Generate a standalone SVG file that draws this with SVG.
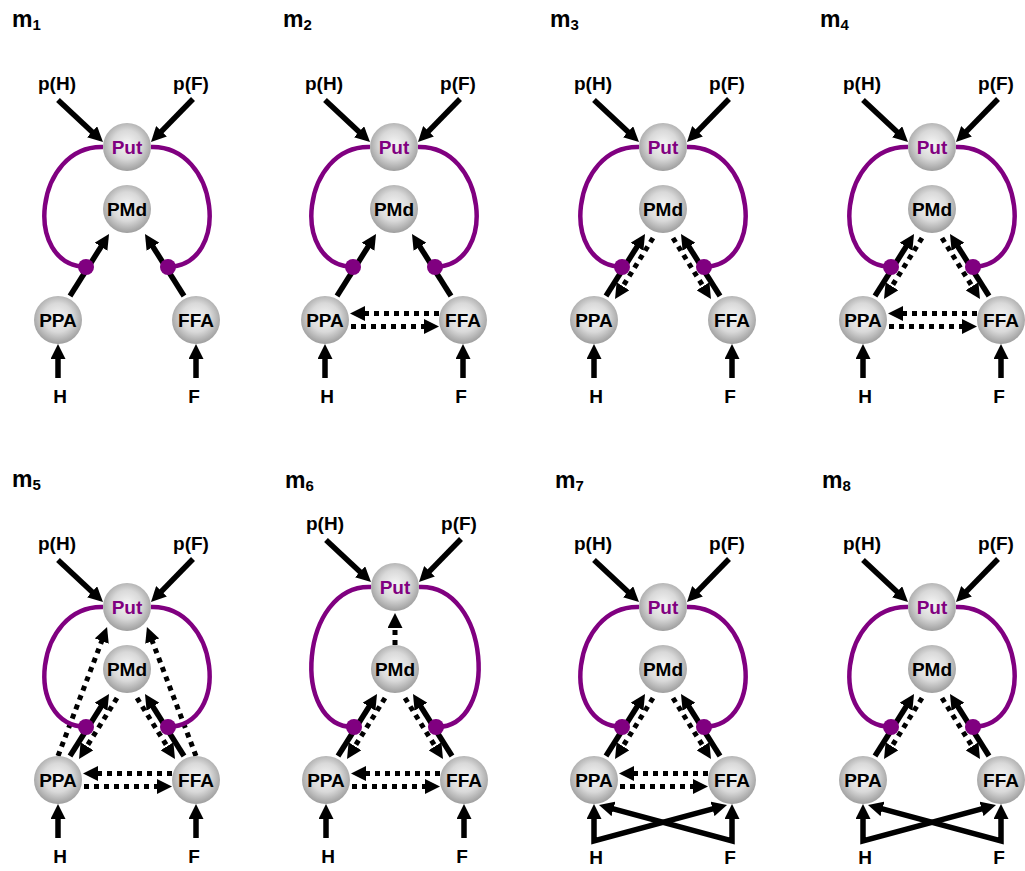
<svg xmlns="http://www.w3.org/2000/svg" width="1025" height="871" viewBox="0 0 1025 871">
<defs>
<radialGradient id="g" cx="50%" cy="45%" r="55%">
<stop offset="0" stop-color="#f6f6f6"/>
<stop offset="0.55" stop-color="#d9d9d9"/>
<stop offset="1" stop-color="#9e9e9e"/>
</radialGradient>
<marker id="ah" viewBox="0 0 15 15" refX="5" refY="7.5" markerWidth="15" markerHeight="15" markerUnits="userSpaceOnUse" orient="auto-start-reverse">
<path d="M0,0 L15,7.5 L0,15 z" fill="#000"/>
</marker>
</defs>
<style>
.s{stroke:#000;stroke-width:5.5;fill:none;marker-end:url(#ah)}
.d{stroke:#000;stroke-width:5;fill:none;stroke-dasharray:5 5;marker-end:url(#ah)}
.x{stroke:#000;stroke-width:5.5;fill:none;stroke-linejoin:miter;marker-start:url(#ah);marker-end:url(#ah)}
.p{stroke:#800080;stroke-width:4.5;fill:none}
.dot{fill:#800080}
.n{fill:url(#g)}
text{font-family:"Liberation Sans",Arial,sans-serif;font-weight:bold;font-size:19px;text-anchor:middle;fill:#000}
.put{fill:#800080}
.t{font-size:23px;text-anchor:start}
.sub{font-size:15px}
</style>
<rect width="1025" height="871" fill="#fff"/>

<!-- titles -->
<text class="t" x="12" y="27">m<tspan class="sub" dy="3">1</tspan></text>
<text class="t" x="283" y="27">m<tspan class="sub" dy="3">2</tspan></text>
<text class="t" x="550" y="27">m<tspan class="sub" dy="3">3</tspan></text>
<text class="t" x="820" y="27">m<tspan class="sub" dy="3">4</tspan></text>
<text class="t" x="12" y="487">m<tspan class="sub" dy="3">5</tspan></text>
<text class="t" x="285" y="488">m<tspan class="sub" dy="3">6</tspan></text>
<text class="t" x="555" y="488">m<tspan class="sub" dy="3">7</tspan></text>
<text class="t" x="822" y="488">m<tspan class="sub" dy="3">8</tspan></text>

<!-- m1 -->
<g id="m1">
<g id="m1-connectors">
<line class="s" x1="58" y1="100" x2="95.7" y2="135.2"/>
<line class="s" x1="193" y1="99" x2="158" y2="134.8"/>
<line class="s" x1="58" y1="378" x2="58" y2="354"/>
<line class="s" x1="196" y1="378" x2="196" y2="354"/>
<line class="s" x1="70" y1="296" x2="103.7" y2="242.5"/>
<line class="s" x1="184" y1="296" x2="150.3" y2="242.5"/>
<path class="p" d="M103,147 C35,145 22,265 86,267"/>
<path class="p" d="M151,147 C219,145 232,265 168,267"/>
<circle class="dot" cx="86" cy="267" r="8"/>
<circle class="dot" cx="168" cy="267" r="8"/>
</g>
<g id="m1-Put"><circle class="n" cx="127" cy="147" r="24"/><text class="put" x="127" y="153.5">Put</text></g>
<g id="m1-PMd"><circle class="n" cx="127" cy="209" r="24"/><text x="127" y="215.5">PMd</text></g>
<g id="m1-PPA"><circle class="n" cx="58" cy="320" r="24"/><text x="58" y="326.5">PPA</text></g>
<g id="m1-FFA"><circle class="n" cx="196" cy="320" r="24"/><text x="196" y="326.5">FFA</text></g>
<text x="57" y="90">p(H)</text><text x="191" y="90">p(F)</text>
<text x="60" y="403">H</text><text x="194" y="403">F</text>
</g>

<!-- m2 -->
<g id="m2" transform="translate(267,0)">
<g id="m2-connectors">
<line class="s" x1="58" y1="100" x2="95.7" y2="135.2"/>
<line class="s" x1="193" y1="99" x2="158" y2="134.8"/>
<line class="s" x1="58" y1="378" x2="58" y2="354"/>
<line class="s" x1="196" y1="378" x2="196" y2="354"/>
<line class="s" x1="70" y1="296" x2="103.7" y2="242.5"/>
<line class="s" x1="184" y1="296" x2="150.3" y2="242.5"/>
<line class="d" x1="172" y1="313.5" x2="93" y2="313.5"/>
<line class="d" x1="84" y1="326.5" x2="162" y2="326.5"/>
<path class="p" d="M103,147 C35,145 22,265 86,267"/>
<path class="p" d="M151,147 C219,145 232,265 168,267"/>
<circle class="dot" cx="86" cy="267" r="8"/>
<circle class="dot" cx="168" cy="267" r="8"/>
</g>
<g id="m2-Put"><circle class="n" cx="127" cy="147" r="24"/><text class="put" x="127" y="153.5">Put</text></g>
<g id="m2-PMd"><circle class="n" cx="127" cy="209" r="24"/><text x="127" y="215.5">PMd</text></g>
<g id="m2-PPA"><circle class="n" cx="58" cy="320" r="24"/><text x="58" y="326.5">PPA</text></g>
<g id="m2-FFA"><circle class="n" cx="196" cy="320" r="24"/><text x="196" y="326.5">FFA</text></g>
<text x="57" y="90">p(H)</text><text x="191" y="90">p(F)</text>
<text x="60" y="403">H</text><text x="194" y="403">F</text>
</g>

<!-- m3 -->
<g id="m3" transform="translate(536,0)">
<g id="m3-connectors">
<line class="s" x1="58" y1="100" x2="95.7" y2="135.2"/>
<line class="s" x1="193" y1="99" x2="158" y2="134.8"/>
<line class="s" x1="58" y1="378" x2="58" y2="354"/>
<line class="s" x1="196" y1="378" x2="196" y2="354"/>
<line class="s" x1="70" y1="296" x2="103.7" y2="242.5"/>
<line class="s" x1="184" y1="296" x2="150.3" y2="242.5"/>
<line class="d" x1="117" y1="238" x2="84.3" y2="290.5"/>
<line class="d" x1="137" y1="238" x2="169.7" y2="290.5"/>
<path class="p" d="M103,147 C35,145 22,265 86,267"/>
<path class="p" d="M151,147 C219,145 232,265 168,267"/>
<circle class="dot" cx="86" cy="267" r="8"/>
<circle class="dot" cx="168" cy="267" r="8"/>
</g>
<g id="m3-Put"><circle class="n" cx="127" cy="147" r="24"/><text class="put" x="127" y="153.5">Put</text></g>
<g id="m3-PMd"><circle class="n" cx="127" cy="209" r="24"/><text x="127" y="215.5">PMd</text></g>
<g id="m3-PPA"><circle class="n" cx="58" cy="320" r="24"/><text x="58" y="326.5">PPA</text></g>
<g id="m3-FFA"><circle class="n" cx="196" cy="320" r="24"/><text x="196" y="326.5">FFA</text></g>
<text x="57" y="90">p(H)</text><text x="191" y="90">p(F)</text>
<text x="60" y="403">H</text><text x="194" y="403">F</text>
</g>

<!-- m4 -->
<g id="m4" transform="translate(805,0)">
<g id="m4-connectors">
<line class="s" x1="58" y1="100" x2="95.7" y2="135.2"/>
<line class="s" x1="193" y1="99" x2="158" y2="134.8"/>
<line class="s" x1="58" y1="378" x2="58" y2="354"/>
<line class="s" x1="196" y1="378" x2="196" y2="354"/>
<line class="s" x1="70" y1="296" x2="103.7" y2="242.5"/>
<line class="s" x1="184" y1="296" x2="150.3" y2="242.5"/>
<line class="d" x1="117" y1="238" x2="84.3" y2="290.5"/>
<line class="d" x1="137" y1="238" x2="169.7" y2="290.5"/>
<line class="d" x1="172" y1="313.5" x2="93" y2="313.5"/>
<line class="d" x1="84" y1="326.5" x2="162" y2="326.5"/>
<path class="p" d="M103,147 C35,145 22,265 86,267"/>
<path class="p" d="M151,147 C219,145 232,265 168,267"/>
<circle class="dot" cx="86" cy="267" r="8"/>
<circle class="dot" cx="168" cy="267" r="8"/>
</g>
<g id="m4-Put"><circle class="n" cx="127" cy="147" r="24"/><text class="put" x="127" y="153.5">Put</text></g>
<g id="m4-PMd"><circle class="n" cx="127" cy="209" r="24"/><text x="127" y="215.5">PMd</text></g>
<g id="m4-PPA"><circle class="n" cx="58" cy="320" r="24"/><text x="58" y="326.5">PPA</text></g>
<g id="m4-FFA"><circle class="n" cx="196" cy="320" r="24"/><text x="196" y="326.5">FFA</text></g>
<text x="57" y="90">p(H)</text><text x="191" y="90">p(F)</text>
<text x="60" y="403">H</text><text x="194" y="403">F</text>
</g>

<!-- m5 -->
<g id="m5" transform="translate(0,460)">
<g id="m5-connectors">
<line class="s" x1="58" y1="100" x2="95.7" y2="135.2"/>
<line class="s" x1="193" y1="99" x2="158" y2="134.8"/>
<line class="s" x1="58" y1="378" x2="58" y2="354"/>
<line class="s" x1="196" y1="378" x2="196" y2="354"/>
<line class="d" x1="58" y1="296" x2="103.5" y2="176.4"/>
<line class="d" x1="196" y1="296" x2="150.5" y2="176.4"/>
<line class="s" x1="70" y1="296" x2="103.7" y2="242.5"/>
<line class="s" x1="184" y1="296" x2="150.3" y2="242.5"/>
<line class="d" x1="117" y1="238" x2="84.3" y2="290.5"/>
<line class="d" x1="137" y1="238" x2="169.7" y2="290.5"/>
<line class="d" x1="172" y1="313.5" x2="93" y2="313.5"/>
<line class="d" x1="84" y1="326.5" x2="162" y2="326.5"/>
<path class="p" d="M103,147 C35,145 22,265 86,267"/>
<path class="p" d="M151,147 C219,145 232,265 168,267"/>
<circle class="dot" cx="86" cy="267" r="8"/>
<circle class="dot" cx="168" cy="267" r="8"/>
</g>
<g id="m5-Put"><circle class="n" cx="127" cy="147" r="24"/><text class="put" x="127" y="153.5">Put</text></g>
<g id="m5-PMd"><circle class="n" cx="127" cy="209" r="24"/><text x="127" y="215.5">PMd</text></g>
<g id="m5-PPA"><circle class="n" cx="58" cy="320" r="24"/><text x="58" y="326.5">PPA</text></g>
<g id="m5-FFA"><circle class="n" cx="196" cy="320" r="24"/><text x="196" y="326.5">FFA</text></g>
<text x="57" y="90">p(H)</text><text x="191" y="90">p(F)</text>
<text x="60" y="403">H</text><text x="194" y="403">F</text>
</g>

<!-- m6 -->
<g id="m6" transform="translate(268,460)">
<g id="m6-connectors">
<line class="s" x1="58" y1="80" x2="95.7" y2="115.2"/>
<line class="s" x1="193" y1="79" x2="158" y2="114.8"/>
<line class="s" x1="58" y1="378" x2="58" y2="354"/>
<line class="s" x1="196" y1="378" x2="196" y2="354"/>
<line class="d" x1="127" y1="185" x2="127" y2="163"/>
<line class="s" x1="70" y1="296" x2="103.7" y2="242.5"/>
<line class="s" x1="184" y1="296" x2="150.3" y2="242.5"/>
<line class="d" x1="117" y1="238" x2="84.3" y2="290.5"/>
<line class="d" x1="137" y1="238" x2="169.7" y2="290.5"/>
<line class="d" x1="172" y1="313.5" x2="93" y2="313.5"/>
<line class="d" x1="84" y1="326.5" x2="162" y2="326.5"/>
<path class="p" d="M103,127 C32,124 22,268 86,267"/>
<path class="p" d="M151,127 C222,124 232,268 168,267"/>
<circle class="dot" cx="86" cy="267" r="8"/>
<circle class="dot" cx="168" cy="267" r="8"/>
</g>
<g id="m6-Put"><circle class="n" cx="127" cy="127" r="24"/><text class="put" x="127" y="133.5">Put</text></g>
<g id="m6-PMd"><circle class="n" cx="127" cy="209" r="24"/><text x="127" y="215.5">PMd</text></g>
<g id="m6-PPA"><circle class="n" cx="58" cy="320" r="24"/><text x="58" y="326.5">PPA</text></g>
<g id="m6-FFA"><circle class="n" cx="196" cy="320" r="24"/><text x="196" y="326.5">FFA</text></g>
<text x="57" y="70">p(H)</text><text x="191" y="70">p(F)</text>
<text x="60" y="403">H</text><text x="194" y="403">F</text>
</g>

<!-- m7 -->
<g id="m7" transform="translate(536,460)">
<g id="m7-connectors">
<line class="s" x1="58" y1="100" x2="95.7" y2="135.2"/>
<line class="s" x1="193" y1="99" x2="158" y2="134.8"/>
<path class="x" d="M58,354 L58,381 L181.35,347.6"/>
<path class="x" d="M196,354 L196,381 L72.65,347.6"/>
<line class="s" x1="70" y1="296" x2="103.7" y2="242.5"/>
<line class="s" x1="184" y1="296" x2="150.3" y2="242.5"/>
<line class="d" x1="117" y1="238" x2="84.3" y2="290.5"/>
<line class="d" x1="137" y1="238" x2="169.7" y2="290.5"/>
<line class="d" x1="172" y1="313.5" x2="93" y2="313.5"/>
<line class="d" x1="84" y1="326.5" x2="162" y2="326.5"/>
<path class="p" d="M103,147 C35,145 22,265 86,267"/>
<path class="p" d="M151,147 C219,145 232,265 168,267"/>
<circle class="dot" cx="86" cy="267" r="8"/>
<circle class="dot" cx="168" cy="267" r="8"/>
</g>
<g id="m7-Put"><circle class="n" cx="127" cy="147" r="24"/><text class="put" x="127" y="153.5">Put</text></g>
<g id="m7-PMd"><circle class="n" cx="127" cy="209" r="24"/><text x="127" y="215.5">PMd</text></g>
<g id="m7-PPA"><circle class="n" cx="58" cy="320" r="24"/><text x="58" y="326.5">PPA</text></g>
<g id="m7-FFA"><circle class="n" cx="196" cy="320" r="24"/><text x="196" y="326.5">FFA</text></g>
<text x="57" y="90">p(H)</text><text x="191" y="90">p(F)</text>
<text x="60" y="404">H</text><text x="194" y="404">F</text>
</g>

<!-- m8 -->
<g id="m8" transform="translate(805,460)">
<g id="m8-connectors">
<line class="s" x1="58" y1="100" x2="95.7" y2="135.2"/>
<line class="s" x1="193" y1="99" x2="158" y2="134.8"/>
<path class="x" d="M58,354 L58,381 L181.35,347.6"/>
<path class="x" d="M196,354 L196,381 L72.65,347.6"/>
<line class="s" x1="70" y1="296" x2="103.7" y2="242.5"/>
<line class="s" x1="184" y1="296" x2="150.3" y2="242.5"/>
<line class="d" x1="117" y1="238" x2="84.3" y2="290.5"/>
<line class="d" x1="137" y1="238" x2="169.7" y2="290.5"/>
<path class="p" d="M103,147 C35,145 22,265 86,267"/>
<path class="p" d="M151,147 C219,145 232,265 168,267"/>
<circle class="dot" cx="86" cy="267" r="8"/>
<circle class="dot" cx="168" cy="267" r="8"/>
</g>
<g id="m8-Put"><circle class="n" cx="127" cy="147" r="24"/><text class="put" x="127" y="153.5">Put</text></g>
<g id="m8-PMd"><circle class="n" cx="127" cy="209" r="24"/><text x="127" y="215.5">PMd</text></g>
<g id="m8-PPA"><circle class="n" cx="58" cy="320" r="24"/><text x="58" y="326.5">PPA</text></g>
<g id="m8-FFA"><circle class="n" cx="196" cy="320" r="24"/><text x="196" y="326.5">FFA</text></g>
<text x="57" y="90">p(H)</text><text x="191" y="90">p(F)</text>
<text x="60" y="404">H</text><text x="194" y="404">F</text>
</g>
</svg>
